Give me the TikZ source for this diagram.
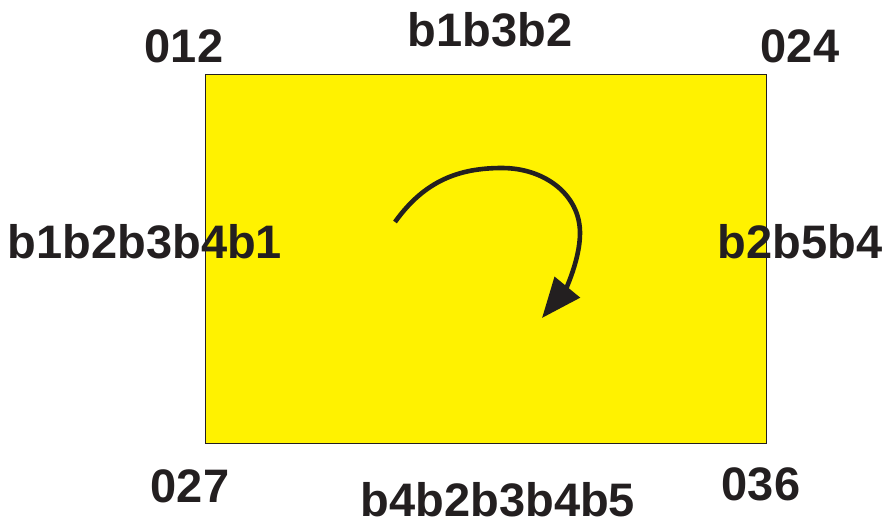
\documentclass[tikz,border=0pt]{standalone}
\usepackage{fontspec}
\setmainfont{Liberation Sans}
\usetikzlibrary{arrows.meta}
\definecolor{fillyellow}{HTML}{FFF200}
\definecolor{inkdark}{HTML}{231F20}
\begin{document}
\begin{tikzpicture}[x=1pt,y=-1pt,
  lbl/.style={inner sep=0pt,text=inkdark,font=\fontsize{47}{50}\selectfont\bfseries},
  face/.style={draw=inkdark,line width=0.8pt,fill=fillyellow}]
\useasboundingbox (0,0) rectangle (885,519);
\draw[face] (205,74) rectangle (766,443);
\node[lbl] (n012) at (184,46.5) {012};
\node[lbl] (top) at (490,30) {b1b3b2};
\node[lbl] (n024) at (800,46.5) {024};
\node[lbl] (left) at (145,242) {b1b2b3b4b1};
\node[lbl] (right) at (800,242) {b2b5b4};
\node[lbl] (n027) at (190,486) {027};
\node[lbl] (bottom) at (498,500) {b4b2b3b4b5};
\node[lbl] (n036) at (761,484) {036};
\coordinate (s) at (395,222);
\coordinate (t) at (542,318);
\draw[draw=inkdark,line width=4.6pt,-{Triangle[length=40pt,width=32pt]}]
  (s) .. controls (425,180) and (460,168) .. (502,168)
      .. controls (545,168) and (580,195) .. (580,233)
      .. controls (580,260) and (565,290) .. (t);
\end{tikzpicture}
\end{document}
